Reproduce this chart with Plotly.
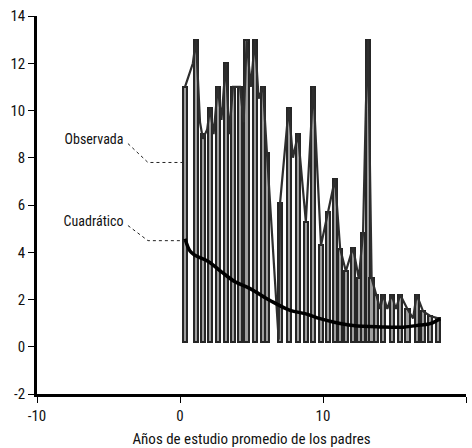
import plotly.graph_objects as go

# ---- Data ----
# Observed series: vertical strokes (position, top value)
bar_x = [0.35, 1.12, 1.6, 2.1, 2.64, 3.2, 3.7, 4.2, 4.66, 5.24, 5.8, 6.08,
         7.0, 7.6, 8.25, 8.8, 9.32, 9.86, 10.35, 10.84, 11.2, 11.6, 12.1, 12.5,
         12.8, 13.15, 13.4, 13.7, 14.2, 14.8, 15.4, 15.9, 16.55, 17.0, 17.5, 18.05]
bar_top = [11.0, 13.0, 9.0, 10.1, 11.0, 12.0, 11.0, 11.0, 13.0, 13.0, 11.0, 8.2,
           6.1, 10.1, 9.0, 5.3, 11.0, 4.3, 5.7, 7.1, 4.15, 3.2, 4.2, 2.9,
           4.8, 13.0, 2.9, 2.2, 2.2, 2.2, 2.2, 1.6, 2.2, 1.5, 1.3, 1.2]
bar_base = 0.2

# Observed series: connecting line
obs_x = [0.35, 0.9, 1.12, 1.4, 1.6, 1.9, 2.1, 2.35, 2.64, 2.9, 3.2, 3.45, 3.7,
         4.2, 4.45, 4.66, 4.95, 5.24, 5.5, 5.8, 6.08, 6.9, 7.0, 7.6, 7.9, 8.25,
         8.8, 9.32, 9.6, 9.86, 10.84, 11.2, 11.6, 12.1, 12.5, 12.8, 13.0, 13.15,
         13.4, 13.7, 14.0, 14.2, 14.5, 14.8, 15.1, 15.4, 15.9, 16.3, 16.55, 17.0,
         17.5, 18.05, 18.2]
obs_y = [11.0, 12.0, 13.0, 9.5, 8.8, 9.2, 10.1, 9.0, 11.0, 9.6, 12.0, 9.0, 11.0,
         11.0, 9.5, 13.0, 11.0, 13.0, 10.5, 11.0, 8.2, 0.3, 6.1, 10.1, 8.0, 9.0,
         5.3, 11.0, 7.5, 4.3, 7.1, 4.15, 3.2, 4.2, 2.9, 4.8, 10.2, 13.0,
         2.9, 2.2, 1.6, 2.2, 1.6, 2.2, 1.6, 2.2, 1.6, 1.2, 2.2, 1.5,
         1.3, 1.2, 1.2]

# Quadratic fit
quad_x = [0.35, 0.7, 1.05, 2.0, 2.9, 3.85, 4.9, 6.3, 7.7, 8.74, 9.8, 10.7,
          12.1, 14.0, 15.6, 16.8, 17.5, 18.2]
quad_y = [4.57, 4.05, 3.87, 3.6, 3.17, 2.75, 2.46, 1.96, 1.54, 1.4, 1.19, 1.05,
          0.9, 0.84, 0.83, 0.92, 0.98, 1.19]

# Labels and their dotted leaders
label_texts = ["Observada", "Cuadrático"]
label_x = [-3.95, -3.95]
label_y = [8.75, 5.25]
leader_obs_x = [-3.64, -2.24, 0.3]
leader_obs_y = [8.6, 7.8, 7.8]
leader_quad_x = [-3.64, -2.24, 0.3]
leader_quad_y = [5.13, 4.49, 4.49]

x_ticks = [-10, 0, 10, 20]
y_ticks = [-2, 0, 2, 4, 6, 8, 10, 12, 14]

FONT = "Liberation Sans Narrow, Arial Narrow, Roboto Condensed, Liberation Sans, sans-serif"

fig = go.Figure()

fig.add_trace(go.Bar(
    x=bar_x,
    y=[t - bar_base for t in bar_top],
    base=bar_base,
    width=0.3,
    marker=dict(color="#9e9e9e", line=dict(color="#262626", width=2)),
    showlegend=False,
    hoverinfo="skip",
))

fig.add_trace(go.Scatter(
    x=obs_x, y=obs_y, mode="lines",
    line=dict(color="#2e2e2e", width=2.2),
    showlegend=False, hoverinfo="skip",
))

fig.add_trace(go.Scatter(
    x=quad_x, y=quad_y, mode="lines",
    line=dict(color="#000000", width=3.5, shape="spline"),
    showlegend=False, hoverinfo="skip",
))

for lx, ly in [(leader_obs_x, leader_obs_y), (leader_quad_x, leader_quad_y)]:
    fig.add_trace(go.Scatter(
        x=lx, y=ly, mode="lines",
        line=dict(color="#222222", width=1, dash="dot"),
        showlegend=False, hoverinfo="skip",
    ))

fig.add_trace(go.Scatter(
    x=label_x, y=label_y, mode="text", text=label_texts,
    textposition="middle left",
    textfont=dict(family=FONT, size=14, color="#111111"),
    showlegend=False, hoverinfo="skip",
))

fig.update_layout(
    width=472, height=448,
    margin=dict(l=37, r=6, t=16, b=54, autoexpand=False),
    paper_bgcolor="white", plot_bgcolor="white",
    font=dict(family=FONT, size=15, color="#111111"),
    bargap=0,
)
fig.update_xaxes(
    range=[-10, 20], tickvals=x_ticks, ticktext=[str(v) for v in x_ticks],
    showline=True, linecolor="black", linewidth=2.5,
    ticks="outside", ticklen=6, tickcolor="black", tickwidth=1,
    showgrid=False, zeroline=False, automargin=False,
    title=dict(text="Años de estudio promedio de los padres", standoff=13,
               font=dict(family=FONT, size=15)),
)
fig.update_yaxes(
    range=[-2, 14], tickvals=y_ticks, ticktext=[str(v) for v in y_ticks],
    showline=True, linecolor="black", linewidth=2.5,
    ticks="outside", ticklen=6, tickcolor="black", tickwidth=1,
    showgrid=False, zeroline=False, automargin=False,
)

fig.write_html(
    "out.html",
    config={"displayModeBar": False},
    post_script="document.body.style.margin='0';document.body.style.overflow='hidden';",
)
